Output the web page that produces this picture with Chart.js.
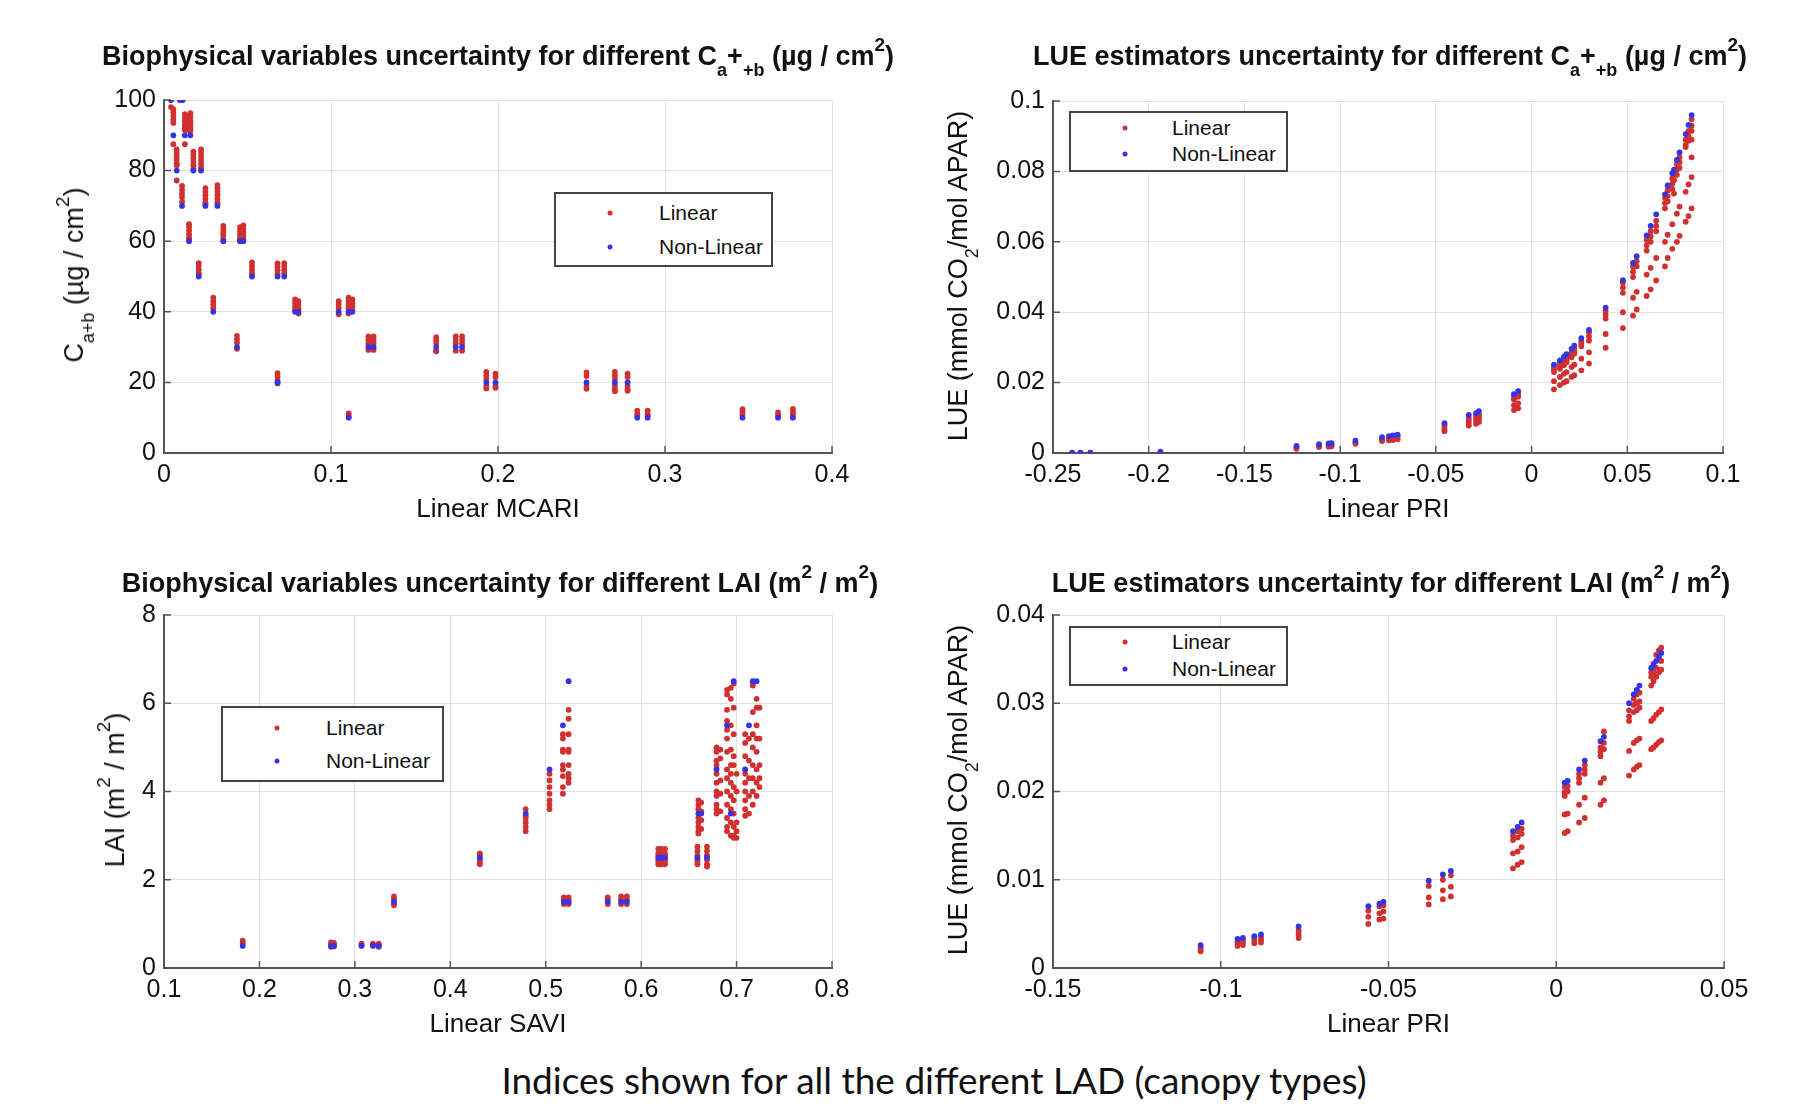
<!DOCTYPE html>
<html>
<head>
<meta charset="utf-8">
<script src="https://cdn.jsdelivr.net/npm/chart.js@4.4.1/dist/chart.umd.min.js"></script>
<style>
body { margin: 0; background: #fff; }
#lienzo { position: relative; width: 1799px; height: 1115px; background: #fff; overflow: hidden;
  font-family: "Liberation Sans", Arial, sans-serif; color: #111; }
canvas { position: absolute; }
.titulo { position: absolute; font-weight: bold; font-size: 27px; line-height: 30px; white-space: nowrap; transform: translateX(-50%); }
.ytitulo { position: absolute; font-size: 27px; line-height: 30px; white-space: nowrap; transform: translate(-50%, -50%) rotate(-90deg); }
.sub { font-size: 18px; line-height: 0; position: relative; top: 11px; }
.sup { font-size: 19px; line-height: 0; position: relative; top: -14px; }
.caja { position: absolute; border: 2px solid #444; background: #fff; box-sizing: border-box; }
.punto { position: absolute; width: 5px; height: 5px; border-radius: 50%; transform: translate(-50%, -50%); }
.etiqueta { position: absolute; font-size: 21px; line-height: 24px; white-space: nowrap; transform: translateY(-50%); }
#pie { position: absolute; top: 1059px; left: 934px; transform: translateX(-50%); font-family: Lato, "Open Sans", sans-serif;
  font-size: 37px; line-height: 42px; white-space: nowrap; color: #111; }
</style>
</head>
<body>
<div id="lienzo">
  <canvas id="g1"></canvas>
  <canvas id="g2"></canvas>
  <canvas id="g3"></canvas>
  <canvas id="g4"></canvas>

  <div class="titulo" style="left:498px; top:41px;">Biophysical variables uncertainty for different C<span class="sub">a</span>+<span class="sub">+b</span> (µg / cm<span class="sup">2</span>)</div>
  <div class="titulo" style="left:1390px; top:41px;">LUE estimators uncertainty for different C<span class="sub">a</span>+<span class="sub">+b</span> (µg / cm<span class="sup">2</span>)</div>
  <div class="titulo" style="left:500px; top:568px;">Biophysical variables uncertainty for different LAI (m<span class="sup">2</span> / m<span class="sup">2</span>)</div>
  <div class="titulo" style="left:1391px; top:568px;">LUE estimators uncertainty for different LAI (m<span class="sup">2</span> / m<span class="sup">2</span>)</div>

  <div class="ytitulo" style="left:74px; top:275px;">C<span class="sub">a+b</span> (µg / cm<span class="sup">2</span>)</div>
  <div class="ytitulo" style="left:958px; top:276px;">LUE (mmol CO<span class="sub">2</span>/mol APAR)</div>
  <div class="ytitulo" style="left:115px; top:790px;">LAI (m<span class="sup">2</span> / m<span class="sup">2</span>)</div>
  <div class="ytitulo" style="left:958px; top:790px;">LUE (mmol CO<span class="sub">2</span>/mol APAR)</div>

  <div id="pie">Indices shown for all the different LAD (canopy types)</div>
</div>

<script>
// ---- Datos: Ca+b frente a Linear MCARI (arriba izquierda) ----
const mcariX = [0.0042, 0.0056, 0.0095, 0.0112, 0.0125, 0.0142, 0.0158, 0.0076, 0.0176, 0.0222,
  0.0108, 0.0248, 0.032, 0.015, 0.0355, 0.0455, 0.0475, 0.0208, 0.0527, 0.068,
  0.072, 0.0295, 0.0785, 0.0805, 0.1046, 0.1105, 0.1128, 0.0437, 0.1224, 0.1255,
  0.163, 0.1747, 0.1785, 0.068, 0.193, 0.1985, 0.253, 0.270, 0.2776, 0.1106,
  0.2834, 0.2896, 0.3464, 0.3677, 0.3766];
const mcariNoLineal = [100, 90, 100, 100, 90, null, 90, 80, 80, 80,
  70, 70, 70, 60, 60, 60, 60, 50, 50, 50,
  50, 40, 40, 40, 40, 40, 40, 30, 30, 30,
  30, 30, 30, 20, 20, 20, 20, 20, 20, 10,
  10, 10, 10, 10, 10];
const mcariLineal = [
  [98], [97.4, 96.5, 95.5, 94.5, 93.5, 87.5], [], [], [96, 95, 94, 93, 92, 91.5, 87.5],
  [95.5, 94.5, 93.5, 92.5, 91.5], [96.3, 95.2, 94, 93, 92, 91.3], [86, 85, 84, 83, 82, 81.5, 77.2],
  [85.4, 84.5, 83.5, 82.5, 81.5, 80.5], [86, 85, 84, 83, 82, 81, 80.5],
  [75.7, 74.5, 73.5, 72.5, 71.2], [75, 74, 73, 72, 71, 70.5], [75.9, 75, 74, 73, 72, 71, 70.5],
  [64.8, 64, 63, 62, 61, 60.5], [64.3, 63.5, 62.5, 61.5, 60.5], [64, 63, 62, 61, 60.5],
  [64.5, 63.5, 62.5, 61.5, 60.5], [53.8, 53, 52, 51, 50.5], [54, 53, 52, 51, 50.5],
  [53.7, 52.8, 51.8, 50.8], [53.8, 52.8, 51.8, 50.8], [44, 43, 42, 41],
  [43.5, 42.5, 41.5, 40.5], [43, 42, 41, 40.5, 39.5], [43, 42, 41, 39.3],
  [44, 43, 42, 41, 39.5], [43.5, 42.5, 41.5, 40.5], [33.2, 32.2, 31.2, 29.5],
  [33, 32, 31, 29.2], [33, 32, 31, 29.2], [32.8, 31.8, 31, 29, 28.8],
  [33, 32, 31, 29], [33, 32, 31, 29], [22.6, 21.6, 20.6, 19.7],
  [23, 22, 21, 19, 18.3], [22.5, 21.5, 19, 18.5], [22.8, 21.8, 19, 18.2],
  [23, 22, 21, 19, 18, 17.5], [22.5, 21.5, 19, 18, 17.6], [11.2, 10.5],
  [12, 11, 10.5], [12, 11, 10.5], [12.4, 11.5, 10.8], [11.5, 10.8], [12.5, 11.5, 10.8]];
const mcariTicksX = [0, 0.1, 0.2, 0.3, 0.4];
const mcariTicksY = [0, 20, 40, 60, 80, 100];

// ---- Datos: LUE frente a Linear PRI, caso Ca+b (arriba derecha) ----
const priCaX = [-0.240, -0.2356, -0.2305, -0.1939, -0.1228, -0.111, -0.106, -0.1045, -0.092, -0.0781,
  -0.0745, -0.0724, -0.070, -0.0455, -0.0328, -0.029, -0.0275, -0.0092, -0.007, 0.0117,
  0.0148, 0.0169, 0.0183, 0.0209, 0.0223, 0.026, 0.030, 0.0387, 0.0477, 0.053,
  0.0549, 0.0601, 0.0622, 0.0651, 0.0697, 0.0711, 0.0735, 0.0744, 0.0759, 0.0773,
  0.0805, 0.082, 0.0836];
const priCaNoLineal = [0.0001, 0.0001, 0.0001, 0.0004, 0.002, 0.0025, 0.0027, 0.0028, 0.0035, 0.0045,
  0.0048, 0.005, 0.0052, 0.0085, 0.0108, 0.0113, 0.0119, 0.0167, 0.0176, 0.0251,
  0.0263, 0.0274, 0.0281, 0.0296, 0.0305, 0.0326, 0.035, 0.0413, 0.0491, 0.054,
  0.0559, 0.0618, 0.0645, 0.0678, 0.0735, 0.076, 0.0795, 0.0805, 0.0833, 0.0854,
  0.0906, 0.0932, 0.096];
const priCaLineal = [
  [0.0], [0.0], [0.0], [0.0002], [0.0016, 0.0012], [0.0021, 0.0017], [0.0023, 0.0018], [0.0024, 0.0019],
  [0.003, 0.0026], [0.0041, 0.0037, 0.0034], [0.0044, 0.004, 0.0036], [0.0046, 0.0042, 0.0037],
  [0.0048, 0.0044, 0.0039], [0.0081, 0.0076, 0.0068, 0.0062], [0.0099, 0.0092, 0.0085, 0.0078],
  [0.0105, 0.0098, 0.009, 0.0083], [0.011, 0.0103, 0.0095, 0.0088], [0.016, 0.0152, 0.0136, 0.0122],
  [0.0168, 0.016, 0.0141, 0.0127], [0.0244, 0.0237, 0.023, 0.0204, 0.0181],
  [0.0254, 0.0246, 0.0239, 0.0216, 0.0193], [0.0263, 0.0256, 0.0249, 0.0225, 0.02],
  [0.0272, 0.0265, 0.0258, 0.023, 0.0204], [0.0286, 0.0279, 0.0272, 0.0244, 0.0216],
  [0.0296, 0.0289, 0.0282, 0.0251, 0.0221], [0.0316, 0.031, 0.0303, 0.0268, 0.0235],
  [0.0343, 0.0331, 0.0319, 0.0286, 0.0254], [0.0404, 0.0393, 0.0382, 0.0338, 0.0299],
  [0.0484, 0.047, 0.0455, 0.040, 0.0355], [0.053, 0.0515, 0.050, 0.0441, 0.039],
  [0.0545, 0.053, 0.0458, 0.0408], [0.0605, 0.059, 0.0575, 0.0507, 0.0446],
  [0.063, 0.0615, 0.06, 0.0526, 0.0465], [0.066, 0.0645, 0.063, 0.0554, 0.049],
  [0.0725, 0.071, 0.0695, 0.060, 0.053], [0.0746, 0.073, 0.0715, 0.062, 0.0554],
  [0.078, 0.0765, 0.075, 0.065, 0.058], [0.079, 0.0775, 0.0737],
  [0.082, 0.0805, 0.079, 0.068, 0.06], [0.084, 0.0826, 0.081, 0.070, 0.0617],
  [0.089, 0.0875, 0.0869, 0.0742, 0.0657], [0.0915, 0.09, 0.0887, 0.0763, 0.0673],
  [0.0948, 0.093, 0.0915, 0.089, 0.084, 0.0784, 0.0695]];
const priCaTicksX = [-0.25, -0.2, -0.15, -0.1, -0.05, 0, 0.05, 0.1];
const priCaTicksY = [0, 0.02, 0.04, 0.06, 0.08, 0.1];

// ---- Datos: LAI frente a Linear SAVI (abajo izquierda) ----
const saviX = [0.1825, 0.275, 0.278, 0.307, 0.319, 0.325, 0.341, 0.431, 0.479, 0.504,
  0.518, 0.524, 0.519, 0.524, 0.565, 0.579, 0.585, 0.618, 0.621, 0.625,
  0.659, 0.669, 0.660, 0.663, 0.679, 0.683, 0.690, 0.694, 0.697, 0.700,
  0.709, 0.713, 0.717, 0.721, 0.724];
const saviNoLineal = [0.5, 0.5, 0.5, 0.5, 0.5, 0.5, 1.5, 2.5, 3.5, 4.5,
  5.5, 6.5, 1.5, 1.5, 1.5, 1.5, 1.5, 2.5, 2.5, 2.5,
  2.5, 2.5, 3.5, 3.5, 4.5, null, 5.5, 3.5, 6.5, null,
  4.5, 5.5, 6.5, 6.5, null];
const saviLineal = [
  [0.62, 0.56], [0.58, 0.54, 0.48], [0.57, 0.53, 0.49], [0.55, 0.52], [0.55, 0.52], [0.55, 0.52, 0.48],
  [1.62, 1.56, 1.45, 1.42], [2.6, 2.55, 2.45, 2.4, 2.35], [3.6, 3.45, 3.4, 3.3, 3.2, 3.1],
  [4.4, 4.25, 4.1, 3.95, 3.8, 3.7, 3.6], [5.3, 5.2, 4.95, 4.9, 4.6, 4.5, 4.35, 4.1, 3.95],
  [5.85, 5.65, 5.3, 4.95, 4.9, 4.6, 4.4, 4.3, 4.2], [1.6, 1.55, 1.45], [1.6, 1.55, 1.45],
  [1.6, 1.55, 1.45], [1.62, 1.55, 1.45], [1.62, 1.55, 1.45],
  [2.7, 2.6, 2.55, 2.45, 2.4, 2.35], [2.7, 2.6, 2.55, 2.45, 2.4, 2.35], [2.7, 2.6, 2.55, 2.45, 2.4, 2.35],
  [2.75, 2.65, 2.55, 2.45, 2.4, 2.35], [2.75, 2.65, 2.55, 2.45, 2.35, 2.3],
  [3.8, 3.7, 3.6, 3.4, 3.3, 3.2, 3.1, 3.05], [3.75, 3.55, 3.35, 3.15],
  [5.0, 4.9, 4.7, 4.6, 4.4, 4.2, 4.0, 3.9, 3.7, 3.6, 3.5], [4.95, 4.75, 4.25, 3.95, 3.55],
  [6.3, 6.2, 5.85, 5.6, 5.4, 5.2, 4.9, 4.5, 4.3, 4.0, 3.7, 3.4, 3.2, 3.1],
  [6.35, 6.1, 5.5, 4.95, 4.6, 4.4, 4.2, 3.9, 3.6, 3.3, 3.0],
  [6.45, 5.9, 5.3, 4.8, 4.6, 4.1, 3.8, 3.5, 3.2, 3.0, 2.95], [4.4, 4.0, 3.3, 3.1, 2.95],
  [5.3, 5.1, 4.8, 4.4, 4.2, 4.0, 3.8, 3.6, 3.45], [5.2, 4.7, 4.3, 3.9, 3.5],
  [6.45, 6.4, 5.8, 5.3, 5.0, 4.6, 4.3, 4.0, 3.7], [6.1, 5.9, 5.5, 5.2, 4.9, 4.5, 4.2, 3.9],
  [5.9, 5.2, 4.6, 4.3, 4.1]];
const saviTicksX = [0.1, 0.2, 0.3, 0.4, 0.5, 0.6, 0.7, 0.8];
const saviTicksY = [0, 2, 4, 6, 8];

// ---- Datos: LUE frente a Linear PRI, caso LAI (abajo derecha) ----
const priLaiX = [-0.106, -0.095, -0.0934, -0.090, -0.088, -0.0768, -0.056, -0.0527, -0.0515, -0.038,
  -0.0338, -0.0314, -0.0129, -0.0115, -0.0103, 0.0025, 0.0034, 0.0068, 0.0085, 0.0132,
  0.0142, 0.0217, 0.0231, 0.024, 0.0248, 0.0283, 0.029, 0.0298, 0.0306, 0.0313];
const priLaiNoLineal = [0.0026, 0.0033, 0.0034, 0.0036, 0.0038, 0.0047, 0.007, 0.0073, 0.0075, 0.0099,
  0.0106, 0.011, 0.0155, 0.016, 0.0165, 0.021, 0.0212, 0.0225, 0.0235, 0.0257,
  0.0262, 0.030, 0.031, 0.0315, 0.032, 0.034, 0.0343, 0.0348, 0.0353, 0.0357];
const priLaiLineal = [
  [0.0024, 0.0021, 0.0019], [0.003, 0.0028, 0.0025], [0.0032, 0.0029, 0.0026], [0.0034, 0.0031, 0.0028],
  [0.0035, 0.0032, 0.0029], [0.0043, 0.004, 0.0037, 0.0034], [0.0065, 0.0058, 0.005],
  [0.007, 0.0062, 0.0055], [0.0071, 0.0064, 0.0056], [0.0093, 0.008, 0.0072],
  [0.01, 0.0088, 0.0078], [0.0105, 0.0092, 0.0081], [0.015, 0.0145, 0.013, 0.0113],
  [0.0155, 0.0148, 0.0132, 0.0117], [0.0158, 0.0152, 0.0137, 0.012],
  [0.0205, 0.0199, 0.0195, 0.0174, 0.0153], [0.0206, 0.02, 0.0175, 0.0155],
  [0.022, 0.0215, 0.021, 0.0185, 0.0165], [0.023, 0.0225, 0.022, 0.0193, 0.017],
  [0.025, 0.0245, 0.024, 0.021, 0.0185], [0.0268, 0.0255, 0.0248, 0.0215, 0.019],
  [0.0292, 0.0285, 0.028, 0.0246, 0.0218], [0.0305, 0.0298, 0.029, 0.0255, 0.0225],
  [0.031, 0.030, 0.0292, 0.0258, 0.0228], [0.0312, 0.0302, 0.0295, 0.026, 0.023],
  [0.0335, 0.033, 0.032, 0.028, 0.0248], [0.0345, 0.0335, 0.0325, 0.0283, 0.025],
  [0.0355, 0.034, 0.033, 0.0287, 0.0253], [0.036, 0.035, 0.0335, 0.029, 0.0256],
  [0.0363, 0.0348, 0.0338, 0.0293, 0.0258]];
const priLaiTicksX = [-0.15, -0.1, -0.05, 0, 0.05];
const priLaiTicksY = [0, 0.01, 0.02, 0.03, 0.04];

const leyendaEtiquetas = ['Linear', 'Non-Linear'];

// ---- Estilo ----
const ROJO = 'rgb(208, 48, 48)';
const AZUL = 'rgb(52, 52, 228)';
const FUENTE = '"Liberation Sans", Arial, sans-serif';
const ANCHO_Y = 110, PAD_ARRIBA = 20, PAD_DER = 40, ALTO_X = 75;

function puntosNoLineal(xs, ys) {
    const out = [];
    xs.forEach((x, i) => { if (ys[i] !== null) out.push({ x: x, y: ys[i] }); });
    return out;
}

function puntosLineal(xs, listas) {
    const out = [];
    xs.forEach((x, i) => listas[i].forEach(y => out.push({ x: x, y: y })));
    return out;
}

function formato(v) {
    return String(Math.round(v * 1e6) / 1e6);
}

// marcas de eje hacia dentro, como en MATLAB
const marcasInternas = {
    id: 'marcasInternas',
    afterDraw(chart) {
        const ctx = chart.ctx, a = chart.chartArea;
        const sx = chart.scales.x, sy = chart.scales.y;
        ctx.save();
        ctx.strokeStyle = '#555';
        ctx.lineWidth = 1.5;
        ctx.beginPath();
        sx.ticks.forEach(t => {
            const x = sx.getPixelForValue(t.value);
            ctx.moveTo(x, a.bottom); ctx.lineTo(x, a.bottom - 7);
        });
        sy.ticks.forEach(t => {
            const y = sy.getPixelForValue(t.value);
            ctx.moveTo(a.left, y); ctx.lineTo(a.left + 7, y);
        });
        ctx.stroke();
        ctx.restore();
    }
};

function crearGrafico(id, area, cfg) {
    const canvas = document.getElementById(id);
    const w = area.r - area.l + ANCHO_Y + PAD_DER;
    const h = area.b - area.t + PAD_ARRIBA + ALTO_X;
    canvas.width = w;
    canvas.height = h;
    canvas.style.left = (area.l - ANCHO_Y) + 'px';
    canvas.style.top = (area.t - PAD_ARRIBA) + 'px';
    canvas.style.width = w + 'px';
    canvas.style.height = h + 'px';

    new Chart(canvas.getContext('2d'), {
        type: 'scatter',
        data: {
            datasets: [{
                label: leyendaEtiquetas[1],
                data: puntosNoLineal(cfg.xs, cfg.noLineal),
                backgroundColor: AZUL, pointRadius: 2.9, borderWidth: 0, order: 0
            }, {
                label: leyendaEtiquetas[0],
                data: puntosLineal(cfg.xs, cfg.lineal),
                backgroundColor: ROJO, pointRadius: 2.9, borderWidth: 0, order: 1
            }]
        },
        options: {
            responsive: false,
            animation: false,
            devicePixelRatio: 1,
            layout: { padding: { top: PAD_ARRIBA, right: PAD_DER, left: 0, bottom: 0 } },
            plugins: { legend: { display: false }, tooltip: { enabled: false } },
            scales: {
                x: {
                    type: 'linear',
                    min: cfg.ticksX[0], max: cfg.ticksX[cfg.ticksX.length - 1],
                    afterBuildTicks: s => { s.ticks = cfg.ticksX.map(v => ({ value: v })); },
                    afterFit: s => { s.height = ALTO_X; },
                    ticks: { padding: 7, autoSkip: false, maxRotation: 0, color: '#111',
                             font: { family: FUENTE, size: 25 }, callback: formato },
                    grid: { color: '#e2e2e2', drawTicks: false },
                    border: { color: '#555', width: 2 },
                    title: { display: true, text: cfg.tituloX, color: '#111',
                             font: { family: FUENTE, size: 26 }, padding: { top: 0, bottom: 3 } }
                },
                y: {
                    type: 'linear',
                    min: cfg.ticksY[0], max: cfg.ticksY[cfg.ticksY.length - 1],
                    afterBuildTicks: s => { s.ticks = cfg.ticksY.map(v => ({ value: v })); },
                    afterFit: s => { s.width = ANCHO_Y; },
                    ticks: { padding: 8, autoSkip: false, color: '#111',
                             font: { family: FUENTE, size: 25 }, callback: formato },
                    grid: { color: '#e2e2e2', drawTicks: false },
                    border: { color: '#555', width: 2 }
                }
            }
        },
        plugins: [marcasInternas]
    });
}

// leyenda dibujada encima del gráfico
function crearLeyenda(caja, marcaX, textoX, filasY) {
    const lienzo = document.getElementById('lienzo');
    const div = document.createElement('div');
    div.className = 'caja';
    div.style.left = caja.l + 'px'; div.style.top = caja.t + 'px';
    div.style.width = (caja.r - caja.l) + 'px'; div.style.height = (caja.b - caja.t) + 'px';
    lienzo.appendChild(div);
    const colores = [ROJO, AZUL];
    leyendaEtiquetas.forEach((txt, i) => {
        const p = document.createElement('div');
        p.className = 'punto';
        p.style.left = marcaX + 'px'; p.style.top = filasY[i] + 'px';
        p.style.background = colores[i];
        lienzo.appendChild(p);
        const t = document.createElement('div');
        t.className = 'etiqueta';
        t.style.left = textoX + 'px'; t.style.top = filasY[i] + 'px';
        t.textContent = txt;
        lienzo.appendChild(t);
    });
}

crearGrafico('g1', { l: 164, t: 97, r: 832, b: 453 },
    { xs: mcariX, noLineal: mcariNoLineal, lineal: mcariLineal, ticksX: mcariTicksX, ticksY: mcariTicksY, tituloX: 'Linear MCARI' });
crearGrafico('g2', { l: 1053, t: 98, r: 1723, b: 453 },
    { xs: priCaX, noLineal: priCaNoLineal, lineal: priCaLineal, ticksX: priCaTicksX, ticksY: priCaTicksY, tituloX: 'Linear PRI' });
crearGrafico('g3', { l: 164, t: 612, r: 832, b: 968 },
    { xs: saviX, noLineal: saviNoLineal, lineal: saviLineal, ticksX: saviTicksX, ticksY: saviTicksY, tituloX: 'Linear SAVI' });
crearGrafico('g4', { l: 1053, t: 612, r: 1724, b: 968 },
    { xs: priLaiX, noLineal: priLaiNoLineal, lineal: priLaiLineal, ticksX: priLaiTicksX, ticksY: priLaiTicksY, tituloX: 'Linear PRI' });

crearLeyenda({ l: 554, t: 192, r: 773, b: 267 }, 610, 659, [213, 247]);
crearLeyenda({ l: 1069, t: 111, r: 1288, b: 172 }, 1125, 1172, [128, 154]);
crearLeyenda({ l: 221, t: 706, r: 444, b: 782 }, 277, 326, [728, 761]);
crearLeyenda({ l: 1069, t: 626, r: 1288, b: 686 }, 1125, 1172, [642, 669]);
</script>
</body>
</html>
